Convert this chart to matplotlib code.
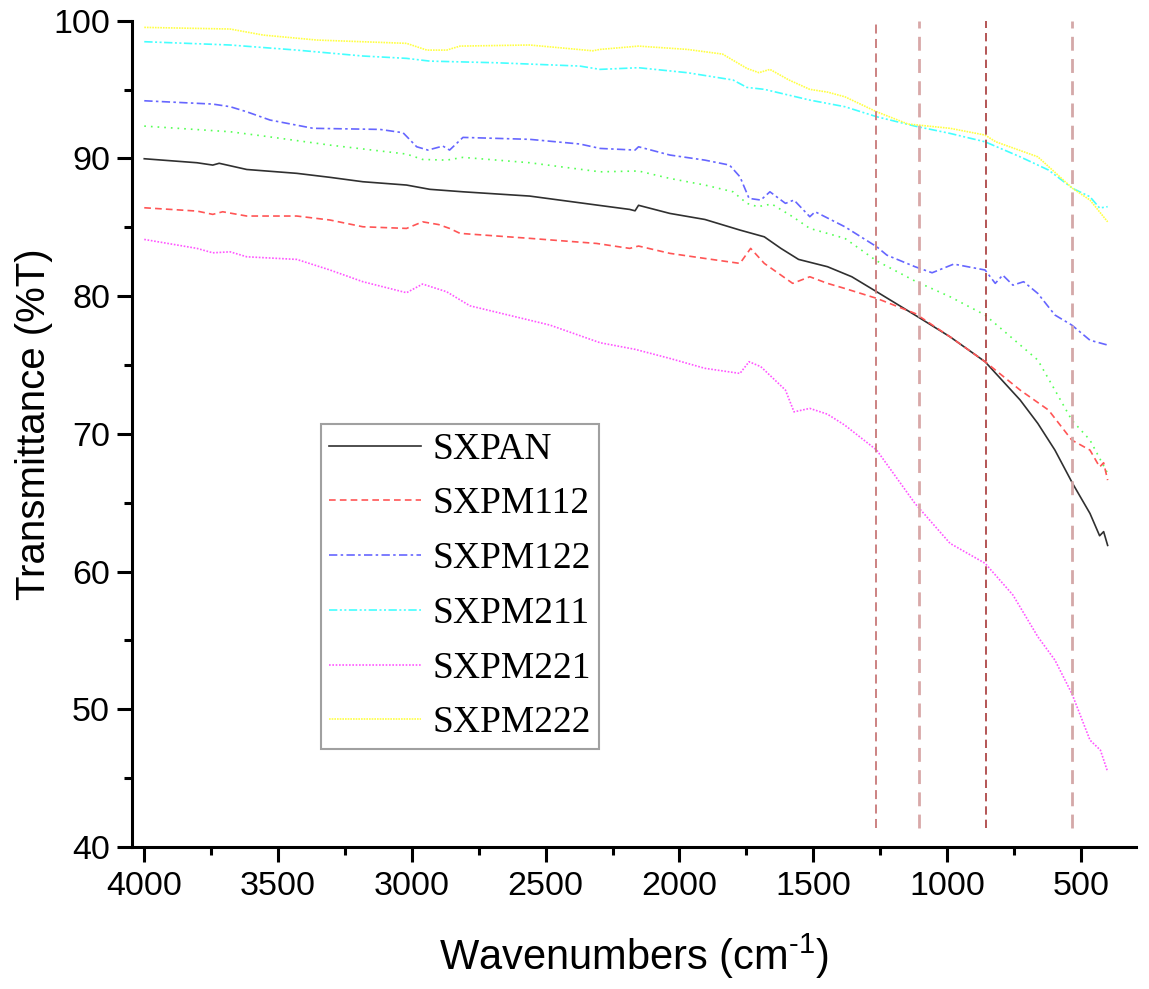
import matplotlib
matplotlib.use("Agg")
import matplotlib.pyplot as plt
from matplotlib.ticker import MultipleLocator

plt.rcParams['font.family'] = ['Liberation Sans', 'DejaVu Sans']
plt.rcParams['mathtext.fontset'] = 'custom'
plt.rcParams['mathtext.rm'] = 'Liberation Sans'
plt.rcParams['mathtext.default'] = 'regular'

# ---------------- data ----------------
w_sxpan = [4000, 3803, 3744, 3720, 3617, 3430, 3306, 3183, 3020, 2933, 2809, 2560, 2310, 2186, 2166, 2153,
           2036, 1905, 1774, 1683, 1621, 1555, 1447, 1356, 1263, 1120, 989, 858, 727, 661, 597, 531, 466, 430, 415, 400]
t_sxpan = [89.98, 89.69, 89.52, 89.65, 89.2, 88.92, 88.63, 88.31, 88.07, 87.76, 87.58, 87.27, 86.62, 86.3, 86.2, 86.6,
           86.01, 85.57, 84.8, 84.31, 83.47, 82.67, 82.14, 81.41, 80.32, 78.63, 77.05, 75.24, 72.46, 70.76, 68.82, 66.4, 64.22, 62.6, 62.9, 61.9]

w_sxpm112 = [4000, 3803, 3744, 3707, 3617, 3430, 3306, 3183, 3020, 2960, 2900, 2859, 2820, 2560, 2310, 2186, 2153,
             2036, 1905, 1774, 1734, 1683, 1577, 1513, 1447, 1382, 1263, 1120, 989, 858, 727, 621, 534, 466, 430, 415, 400]
t_sxpm112 = [86.42, 86.18, 85.94, 86.13, 85.82, 85.82, 85.53, 85.04, 84.92, 85.4, 85.2, 84.92, 84.56, 84.2, 83.83, 83.47, 83.64,
             83.11, 82.74, 82.38, 83.47, 82.38, 80.93, 81.41, 80.93, 80.56, 79.84, 78.75, 77.05, 75.24, 73.18, 71.73, 69.55, 68.82, 67.6, 67.9, 66.64]

w_sxpm122 = [4000, 3744, 3679, 3617, 3530, 3369, 3119, 3033, 2982, 2940, 2884, 2859, 2809, 2560, 2372, 2297, 2166, 2153,
             2036, 1905, 1813, 1774, 1740, 1696, 1662, 1604, 1572, 1513, 1493, 1382, 1263, 1225, 1120, 1056, 975, 858,
             820, 792, 754, 714, 661, 597, 534, 466, 400]
t_sxpm122 = [94.19, 93.95, 93.76, 93.39, 92.79, 92.19, 92.11, 91.87, 90.85, 90.61, 90.9, 90.61, 91.53, 91.39, 91.05, 90.73, 90.61, 90.85,
             90.25, 89.88, 89.52, 88.67, 87.1, 86.98, 87.58, 86.74, 86.98, 85.77, 86.13, 85.04, 83.59, 82.98, 82.14, 81.7, 82.33, 81.9,
             80.93, 81.53, 80.8, 81.05, 80.2, 78.63, 77.9, 76.8, 76.45]

w_sxpm211 = [4000, 3679, 3430, 3183, 3020, 2933, 2683, 2372, 2297, 2153, 1971, 1800, 1748, 1683, 1513, 1382, 1263, 1120,
             989, 858, 727, 621, 531, 466, 430, 400]
t_sxpm211 = [98.48, 98.24, 97.87, 97.44, 97.27, 97.07, 96.95, 96.71, 96.47, 96.59, 96.23, 95.7, 95.16, 95.02, 94.24, 93.76, 93.03, 92.35,
             91.82, 91.21, 90.12, 89.16, 87.83, 87.22, 86.4, 86.5]

w_sxpm221 = [4000, 3803, 3744, 3679, 3617, 3430, 3306, 3183, 3020, 2960, 2870, 2783, 2484, 2297, 2166, 2036, 1905, 1774,
             1740, 1696, 1604, 1572, 1513, 1447, 1382, 1263, 1120, 989, 858, 754, 661, 597, 534, 466, 427, 400]
t_sxpm221 = [84.12, 83.47, 83.15, 83.22, 82.86, 82.67, 81.9, 81.05, 80.25, 80.88, 80.32, 79.3, 77.9, 76.62, 76.14, 75.48, 74.76, 74.39,
             75.24, 74.88, 73.18, 71.6, 71.85, 71.43, 70.63, 68.82, 64.95, 62.05, 60.6, 58.3, 55.27, 53.57, 51.15, 47.76, 47.03, 45.46]

w_sxpm222 = [4000, 3679, 3555, 3355, 3020, 2944, 2870, 2820, 2560, 2324, 2297, 2153, 1971, 1839, 1748, 1703, 1662, 1591,
             1513, 1447, 1382, 1263, 1146, 989, 858, 818, 661, 531, 466, 400]
t_sxpm222 = [99.52, 99.4, 98.96, 98.6, 98.36, 97.87, 97.87, 98.16, 98.24, 97.82, 97.92, 98.16, 97.92, 97.58, 96.54, 96.23, 96.47, 95.7,
             95.02, 94.82, 94.48, 93.39, 92.5, 92.19, 91.7, 91.21, 90.12, 87.83, 86.98, 85.4]

# unlabeled green trace
w_green = [4000, 3679, 3555, 3306, 3020, 2960, 2870, 2809, 2560, 2297, 2153, 2036, 1905, 1800, 1748, 1708, 1655, 1577,
           1513, 1382, 1263, 1120, 989, 858, 792, 661, 597, 534, 466, 400]
t_green = [92.35, 91.94, 91.63, 90.97, 90.32, 89.93, 89.88, 90.08, 89.69, 89.03, 89.09, 88.55, 88.07, 87.58, 86.74, 86.5, 86.69, 85.77,
           84.92, 84.2, 82.56, 81.1, 79.96, 78.63, 77.54, 75.36, 73.18, 71.0, 69.55, 67.13]

marker_lines = [1266, 1106, 855, 535]

# ---------------- figure ----------------
fig = plt.figure(figsize=(11.49, 9.89), dpi=100)
ax = fig.add_axes([0.1146, 0.1436, 0.8741, 0.8354])

lw = 1.2
ax.plot(w_green, t_green, color='#55ff55', lw=lw, ls=(0, (1, 3)))
ax.plot(w_sxpan, t_sxpan, color='#303030', lw=lw, ls='-', label='SXPAN')
ax.plot(w_sxpm112, t_sxpm112, color='#ff5555', lw=lw, ls=(0, (4, 2.5)), label='SXPM112')
ax.plot(w_sxpm122, t_sxpm122, color='#6666ff', lw=lw, ls=(0, (5, 2, 1.5, 2)), label='SXPM122')
ax.plot(w_sxpm211, t_sxpm211, color='#44ffff', lw=lw, ls=(0, (5, 1.5, 1.2, 1.5, 1.2, 1.5)), label='SXPM211')
ax.plot(w_sxpm221, t_sxpm221, color='#ff55ff', lw=lw, ls=(0, (1, 1)), label='SXPM221')
ax.plot(w_sxpm222, t_sxpm222, color='#ffff44', lw=lw, ls=(0, (1, 0.6)), label='SXPM222')

vl_colors = ['#c87878', '#d8a8a8', '#a83838', '#d4a8a8']
vl_widths = [1.3, 2.0, 1.2, 2.0]
for xv, c, lwv in zip(marker_lines, vl_colors, vl_widths):
    ax.plot([xv, xv], [41.4, 100], color=c, lw=lwv, ls=(0, (5, 3)))

ax.set_xlim(4047, 294)
ax.set_ylim(40, 100)
ax.xaxis.set_major_locator(MultipleLocator(500))
ax.xaxis.set_minor_locator(MultipleLocator(250))
ax.yaxis.set_major_locator(MultipleLocator(10))
ax.yaxis.set_minor_locator(MultipleLocator(5))

for s in ['top', 'right']:
    ax.spines[s].set_visible(False)
for s in ['left', 'bottom']:
    ax.spines[s].set_linewidth(2.2)

ax.tick_params(which='major', direction='out', length=10.5, width=2.2, labelsize=24.5)
ax.tick_params(which='minor', direction='out', length=5.5, width=2.2)
ax.tick_params(axis='x', which='major', pad=7)
ax.tick_params(axis='y', which='major', pad=5)

ax.set_xlabel(r'Wavenumbers (cm$^{\text{-}1}$)', fontsize=30)
ax.set_ylabel('Transmittance (%T)', fontsize=29)
ax.xaxis.set_label_coords(0.5005, -0.103)
ax.yaxis.set_label_coords(-0.078, 0.512)

leg = ax.legend(loc='upper left', bbox_to_anchor=(0.1885, 0.512), borderaxespad=0,
                prop={'family': 'Liberation Serif', 'size': 27}, handlelength=2.45,
                handletextpad=0.3, labelspacing=0.54, borderpad=0.22, fancybox=False,
                framealpha=1, edgecolor='#a0a0a0')
leg.get_frame().set_linewidth(1.5)

fig.savefig('out.png', dpi=100)
